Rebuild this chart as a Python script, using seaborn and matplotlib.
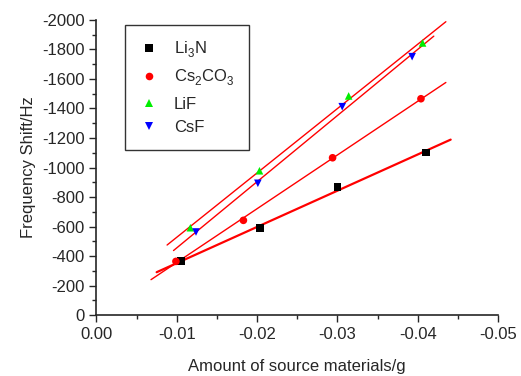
import numpy as np
import pandas as pd
import matplotlib
matplotlib.use("Agg")
import matplotlib.pyplot as plt
from matplotlib.ticker import MultipleLocator, FuncFormatter
import matplotlib._mathtext as mtext
import seaborn as sns

# data
li3n_x = [-0.0105, -0.0204, -0.0300, -0.0410]
li3n_y = [-366, -592, -866, -1103]
cs2co3_x = [-0.0099, -0.0183, -0.0294, -0.0404]
cs2co3_y = [-364, -642, -1066, -1466]
lif_x = [-0.0117, -0.0203, -0.0314, -0.0406]
lif_y = [-592, -978, -1485, -1844]
csf_x = [-0.0124, -0.0201, -0.0306, -0.0393]
csf_y = [-563, -893, -1412, -1751]

# x extent of each fit line
fit_ranges = {
    "Li3N": (-0.0075, -0.0441),
    "Cs2CO3": (-0.0068, -0.0435),
    "LiF": (-0.0088, -0.0435),
    "CsF": (-0.0096, -0.0420),
}

labels = {
    "Li3N": r"$\mathregular{Li_3N}$",
    "Cs2CO3": r"$\mathregular{Cs_2CO_3}$",
    "LiF": "LiF",
    "CsF": "CsF",
}

frames = []
for name, xs, ys in [("Li3N", li3n_x, li3n_y), ("Cs2CO3", cs2co3_x, cs2co3_y),
                     ("LiF", lif_x, lif_y), ("CsF", csf_x, csf_y)]:
    frames.append(pd.DataFrame({"x": xs, "y": ys, "material": labels[name], "key": name}))
df = pd.concat(frames, ignore_index=True)

sns.set_style("ticks")
plt.rcParams["font.family"] = ["Liberation Sans", "DejaVu Sans"]
plt.rcParams["mathtext.fontset"] = "custom"
plt.rcParams["mathtext.rm"] = "Liberation Sans"
plt.rcParams["mathtext.it"] = "Liberation Sans"
plt.rcParams["axes.unicode_minus"] = False
# drop subscripts lower, like the original
mtext.FontConstantsBase.sub1 = 0.45
mtext.FontConstantsBase.sub2 = 0.6

fig, ax = plt.subplots(figsize=(5.21, 3.76), dpi=100)

# fit lines (least squares on the points)
for name, (x0, x1) in fit_ranges.items():
    sub = df[df["key"] == name]
    k, b = np.polyfit(sub["x"], sub["y"], 1)
    xx = np.array([x0, x1])
    ax.plot(xx, k * xx + b, color="red", lw=1.6 if name == "Li3N" else 1.0, zorder=1)

palette = {labels["Li3N"]: "black", labels["Cs2CO3"]: "red",
           labels["LiF"]: "#00ee00", labels["CsF"]: "blue"}
markers = {labels["Li3N"]: "s", labels["Cs2CO3"]: "o",
           labels["LiF"]: "^", labels["CsF"]: "v"}
sns.scatterplot(data=df, x="x", y="y", hue="material", style="material",
                palette=palette, markers=markers, s=30, linewidth=0, ax=ax, zorder=3)

ax.set_xlim(0, -0.05)
ax.set_ylim(0, -2000)
ax.xaxis.set_major_locator(MultipleLocator(0.01))
ax.xaxis.set_minor_locator(MultipleLocator(0.005))
ax.yaxis.set_major_locator(MultipleLocator(200))
ax.yaxis.set_minor_locator(MultipleLocator(100))
ax.xaxis.set_major_formatter(FuncFormatter(lambda v, p: "0.00" if abs(v) < 1e-9 else "%.2f" % v))
ax.yaxis.set_major_formatter(FuncFormatter(lambda v, p: "0" if abs(v) < 1e-9 else "%d" % v))
ax.tick_params(which="major", length=5, width=1, labelsize=12, direction="out")
ax.tick_params(which="minor", length=3, width=1, direction="out")
sns.despine(ax=ax)
for sp in ax.spines.values():
    sp.set_linewidth(1.2)

ax.set_xlabel("Amount of source materials/g", fontsize=12, labelpad=12)
ax.set_ylabel("Frequency Shift/Hz", fontsize=12)

leg = ax.legend(loc="upper left", bbox_to_anchor=(0.072, 0.983), borderaxespad=0,
                fontsize=12, frameon=True, fancybox=False, edgecolor="black",
                handlelength=1.0, handletextpad=1.0, borderpad=0.9,
                labelspacing=0.5, markerscale=1.0)
leg.get_frame().set_linewidth(1.0)

fig.subplots_adjust(left=0.185, right=0.956, top=0.947, bottom=0.162)
fig.savefig("out.png", dpi=100)
